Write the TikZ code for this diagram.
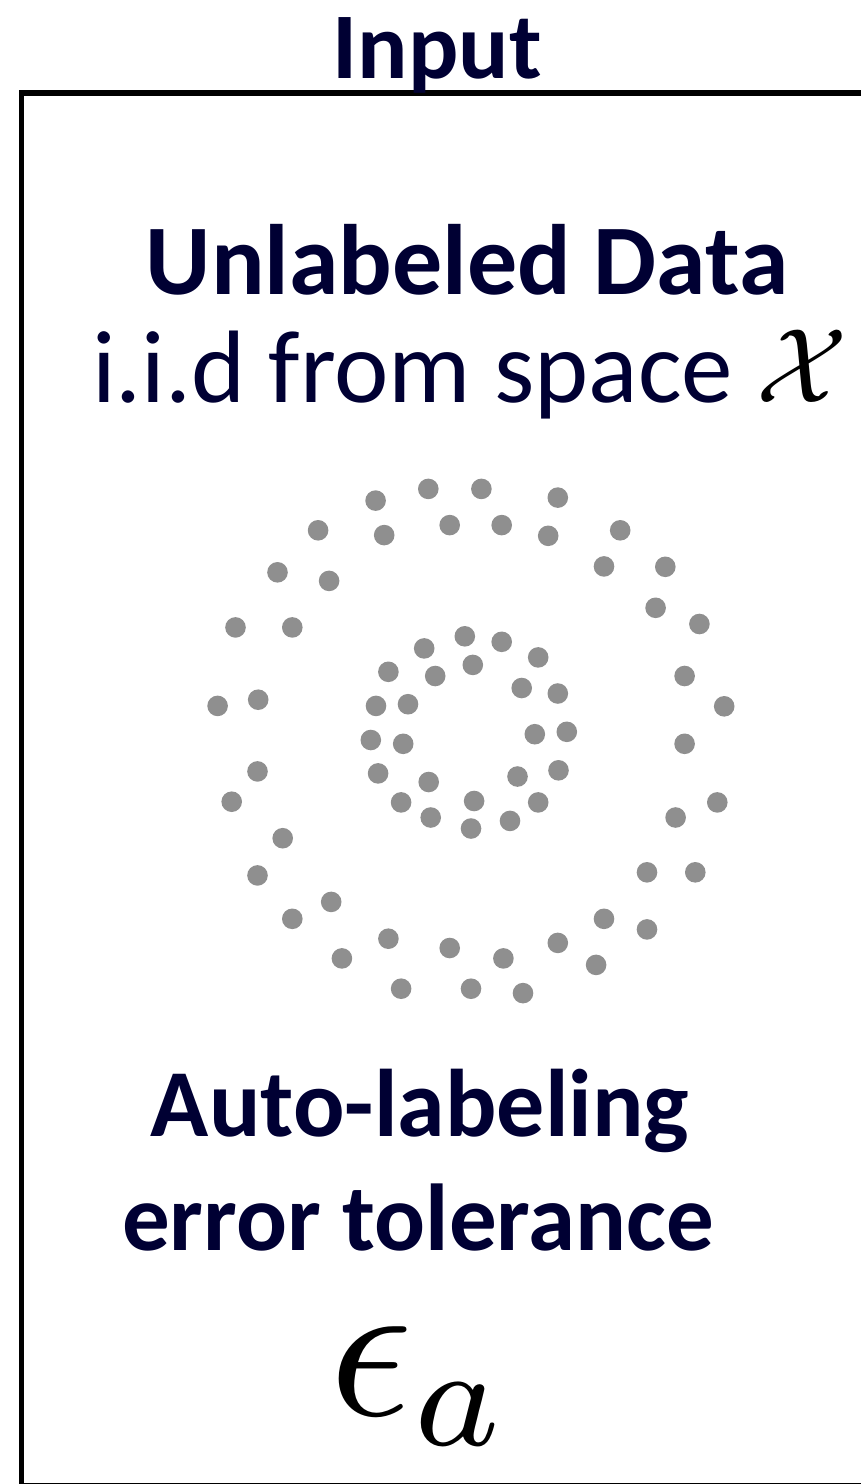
\documentclass[tikz,border=0pt]{standalone}
\usepackage{fontspec}
\setmainfont{Carlito}
\definecolor{navy}{HTML}{000033}
\definecolor{dotgray}{HTML}{8F8F8F}
\newcommand{\bigmath}[2]{\scalebox{#1}{\fontsize{10}{12}\selectfont\color{black}$#2$}}
\tikzset{
  label text/.style={inner sep=0pt, anchor=base, text=navy,
    font=\fontsize{#1}{#1}\selectfont},
  bold text/.style={label text=#1, font=\fontsize{#1}{#1}\selectfont\bfseries},
  datadot/.style={fill=dotgray, draw=none}
}
\def\Rings{
    % outer ring
    \foreach \px/\py in {375.6/500.6, 428.3/488.9, 481.4/488.9, 557.8/497.6,
        318.1/530.3, 384.2/535.1, 449.7/525.1, 501.7/525.1, 548.2/535.8, 620.2/530.3,
        277.5/572.3, 329.1/580.9, 604.0/566.4, 665.3/566.8,
        235.5/627.4, 292.3/627.4, 655.6/607.8, 699.4/624.0,
        217.6/705.9, 258.2/699.7, 684.6/676.0, 724.2/706.3,
        257.5/771.4, 231.7/801.7, 684.6/743.8, 717.3/802.4,
        282.7/838.2, 257.5/875.4, 675.6/817.5, 647.0/872.3, 695.3/872.3,
        331.2/901.9, 292.3/918.8, 604.0/918.8, 647.0/929.4,
        388.4/938.7, 341.9/958.4, 449.7/948.0, 503.4/958.4, 557.8/942.9, 596.1/964.9,
        401.1/988.7, 471.0/988.7, 523.0/993.1}
      \fill[datadot] (\px,\py) circle (10.3pt);
    % inner ring
    \foreach \px/\py in {424.2/648.4, 464.8/636.3, 501.7/641.8, 538.2/657.4,
        388.4/671.8, 435.2/676.0, 472.8/664.9,
        376.0/705.9, 408.0/704.2, 521.7/688.0, 557.8/693.5,
        370.8/740.0, 403.2/743.8, 534.8/734.2, 566.8/731.8,
        378.1/773.4, 428.7/782.0, 517.5/776.5, 558.5/770.3,
        401.1/802.4, 430.7/817.5, 474.1/801.0, 510.0/820.9, 538.2/802.4,
        471.0/828.5}
      \fill[datadot] (\px,\py) circle (10.3pt);
}

\begin{document}
\begin{tikzpicture}[x=1pt, y=-1pt]
    \useasboundingbox (0,0) rectangle (861,1484);

    \draw[line width=5.3pt, miter limit=10] (21.7,93) rectangle (880,1485.5);

    \node[bold text=94] (input) at (437,78) {Input};
    \node[bold text=100] (unlabeled) at (467,294) {Unlabeled Data};
    \node[label text=103] (iid) at (470,402) {i.i.d from space \bigmath{10.6}{\mathcal{X}}};

    \Rings

    \node[bold text=96] (autolabel) at (420,1136) {Auto-labeling};
    \node[bold text=95] (errtol) at (418,1250) {error tolerance};
    \node[label text=10] (eps) at (421,1415) {\bigmath{20.6}{\epsilon_a}};
\end{tikzpicture}
\end{document}
